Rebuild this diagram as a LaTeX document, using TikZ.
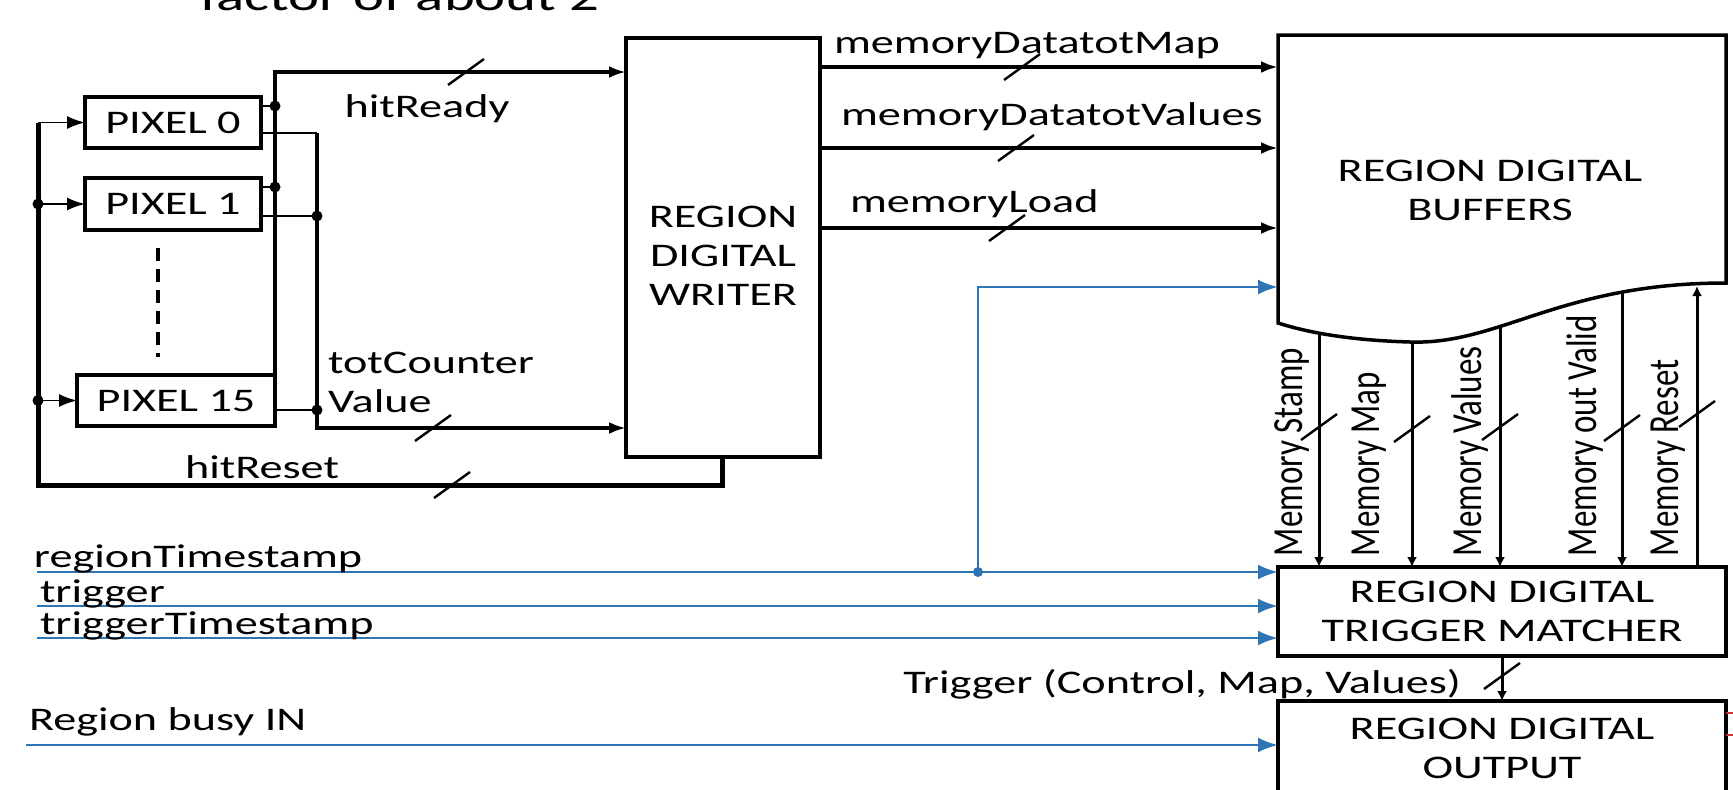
\documentclass[tikz,border=0pt]{standalone}
\usepackage{fontspec}
\setmainfont{Carlito}
\usetikzlibrary{arrows.meta,calc}
\definecolor{sigblue}{RGB}{46,117,182}
\definecolor{stubred}{RGB}{210,50,50}
\newcommand{\hs}[1]{\scalebox{1.4}[1]{#1}}
\newcommand{\vs}[1]{\scalebox{1}[1.3]{#1}}
\newcommand{\slashmark}[1]{\draw[slashln] ($(#1)+(-18,13)$) -- ($(#1)+(18,-13)$);}
\begin{document}
\begin{tikzpicture}[x=1pt,y=-1pt,
  every node/.style={font=\fontsize{33}{39}\selectfont},
  box/.style={draw,line width=4.5pt,fill=white,inner sep=0pt,outer sep=0pt},
  lbl/.style={inner sep=0pt,outer sep=0pt},
  bus/.style={line width=5pt},
  sig/.style={line width=3.6pt},
  wire/.style={line width=1.8pt},
  mem/.style={line width=3pt},
  bsig/.style={line width=2.8pt,draw=sigblue},
  tipA/.style={-{Latex[length=17pt,width=12pt]}},
  tipP/.style={-{Latex[length=18pt,width=13pt]}},
  tipB/.style={-{Latex[length=20pt,width=15pt]}},
  tipS/.style={-{Latex[length=10pt,width=10pt]}},
  slashln/.style={line width=2.4pt},
  dot/.style={circle,fill,inner sep=0pt,minimum size=11pt},
]
\useasboundingbox (0,0) rectangle (1733,790);
\clip (0,0) rectangle (1733,790);

% cut-off text at the top
\node[lbl,anchor=base west,font=\fontsize{42}{50}\selectfont] (frag) at (200,10) {\hs{factor of about 2}};

% pixel boxes
\node[box,minimum width=176pt,minimum height=51pt] (p0) at (173,122.5) {\hs{PIXEL 0}};
\node[box,minimum width=176pt,minimum height=52pt] (p1) at (173,204) {\hs{PIXEL 1}};
\node[box,minimum width=198pt,minimum height=51pt] (p15) at (176,400.5) {\hs{PIXEL 15}};
\coordinate (dA) at (158,248);
\coordinate (dB) at (158,357);
\draw[line width=4.5pt,dash pattern=on 13pt off 8pt] (dA) -- (dB);

% writer
\node[box,minimum width=194pt,minimum height=419pt] (wr) at (723,247.5) {};
\node[lbl,align=center] (wrt) at (723,256) {\hs{REGION}\\\hs{DIGITAL}\\\hs{WRITER}};

% trigger matcher and output
\node[box,minimum width=448pt,minimum height=89pt,align=center] (tm) at (1502,611.5) {\hs{REGION DIGITAL}\\\hs{TRIGGER MATCHER}};
\node[box,minimum width=448pt,minimum height=200pt,anchor=north] (out) at (1502,701) {};
\node[lbl,align=center] (ot) at (1502,748) {\hs{REGION DIGITAL}\\\hs{OUTPUT}};

% memory lines between buffers and matcher
\coordinate (mS) at (1319,320);
\coordinate (mM) at (1412,320);
\coordinate (mV) at (1500,320);
\coordinate (mO) at (1622,280);
\coordinate (mR) at (1697,286);
\draw[mem,tipS] (mS) -- (mS |- tm.north);
\draw[mem,tipS] (mM) -- (mM |- tm.north);
\draw[mem,tipS] (mV) -- (mV |- tm.north);
\draw[mem,tipS] (mO) -- (mO |- tm.north);
\draw[mem,tipS] (mR |- tm.north) -- (mR);

% buffers
\coordinate (bTL) at (1278,35);
\coordinate (bTR) at (1726,35);
\coordinate (bBR) at (1726,283);
\coordinate (bBL) at (1278,323);
\draw[line width=3.5pt,fill=white] (bTL) -- (bTR) -- (bBR) .. controls (1560,283) and (1500,345) .. (1410,342) .. controls (1340,340) and (1300,330) .. (bBL) -- cycle;
\node[lbl,align=center] (bt) at (1490,190) {\hs{REGION DIGITAL}\\\hs{BUFFERS}};

% hitReset bus
\coordinate (hrA) at (722,485);
\coordinate (busB) at (38,485);
\coordinate (busT) at (38,122.5);
\draw[bus,line join=miter] (wr.south -| hrA) -- (hrA) -- (busB) -- (busT);
\draw[wire,tipP] (busT) -- (p0.west);
\draw[wire,tipP] (busT |- p1.west) -- (p1.west);
\node[dot] at (busT |- p1.west) {};
\draw[wire,tipP] (busT |- p15.west) -- (p15.west);
\node[dot] at (busT |- p15.west) {};

% hitReady
\coordinate (hrV) at (275,72);
\draw[sig,tipA] (p15.north east) -- (hrV) -- (wr.west |- hrV);
\coordinate (p0r) at ($(p0.east)+(0,-16.5)$);
\coordinate (p1r) at ($(p1.east)+(0,-17)$);
\draw[wire] (p0r) -- (p0r -| hrV);
\node[dot] at (p0r -| hrV) {};
\draw[wire] (p1r) -- (p1r -| hrV);
\node[dot] at (p1r -| hrV) {};

% totCounter
\coordinate (tcV) at (317,428);
\coordinate (p0t) at ($(p0.east)+(0,10.5)$);
\coordinate (p1t) at ($(p1.east)+(0,12)$);
\coordinate (p15t) at ($(p15.east)+(0,9.5)$);
\draw[wire] (p0t) -- (p0t -| tcV);
\draw[sig,tipA] (p0t -| tcV) -- (tcV) -- (wr.west |- tcV);
\draw[wire] (p1t) -- (p1t -| tcV);
\node[dot] at (p1t -| tcV) {};
\draw[wire] (p15t) -- (p15t -| tcV);
\node[dot] at (p15t -| tcV) {};

% labels left
\node[lbl,anchor=base] (lhr) at (427,117) {\hs{hitReady}};
\node[lbl,anchor=north west,align=left] (ltc) at (328,352) {\hs{totCounter}\\\hs{Value}};
\node[lbl,anchor=base] (lhs) at (262,478) {\hs{hitReset}};

% writer -> buffers
\coordinate (b1) at (1278,67);
\coordinate (b2) at (1278,148);
\coordinate (b3) at (1278,228);
\draw[sig,tipA] (wr.east |- b1) -- (b1);
\draw[sig,tipA] (wr.east |- b2) -- (b2);
\draw[sig,tipA] (wr.east |- b3) -- (b3);
\node[lbl,anchor=base west] (l1) at (834,53) {\hs{memoryDatatotMap}};
\node[lbl,anchor=base west] (l2) at (841,125) {\hs{memoryDatatotValues}};
\node[lbl,anchor=base west] (l3) at (850,212) {\hs{memoryLoad}};

% vertical labels
\node[lbl,rotate=90,anchor=base west] (lS) at (1302,556) {\vs{Memory Stamp}};
\node[lbl,rotate=90,anchor=base west] (lM) at (1379,556) {\vs{Memory Map}};
\node[lbl,rotate=90,anchor=base west] (lV) at (1481,556) {\vs{Memory Values}};
\node[lbl,rotate=90,anchor=base west] (lO) at (1596,556) {\vs{Memory out Valid}};
\node[lbl,rotate=90,anchor=base west] (lR) at (1678,556) {\vs{Memory Reset}};

% trigger output
\draw[mem,tipS] (tm.south) -- (out.north);
\node[lbl,anchor=base east] (ltr) at (1461,693) {\hs{Trigger (Control, Map, Values)}};

% blue signals
\coordinate (rtL) at (37,572);
\coordinate (tgL) at (37,606);
\coordinate (ttL) at (37,638);
\coordinate (rbL) at (26,745);
\draw[bsig,tipB] (rtL) -- (tm.west |- rtL);
\draw[bsig,tipB] (tgL) -- (tm.west |- tgL);
\draw[bsig,tipB] (ttL) -- (tm.west |- ttL);
\draw[bsig,tipB] (rbL) -- (out.west |- rbL);
\coordinate (bj) at (978,572);
\coordinate (bIn) at (1278,287);
\draw[bsig,tipB] (bj) -- (bj |- bIn) -- (bIn);
\node[dot,fill=sigblue,minimum size=10pt] at (bj) {};
\node[lbl,anchor=base west] (lrt) at (34,567) {\hs{regionTimestamp}};
\node[lbl,anchor=base west] (ltg) at (40,602) {\hs{trigger}};
\node[lbl,anchor=base west] (ltt) at (40,634) {\hs{triggerTimestamp}};
\node[lbl,anchor=base west] (lrb) at (29,730) {\hs{Region busy IN}};

% red stubs at the right edge
\coordinate (rs1) at ($(out.north east)+(0,12)$);
\coordinate (rs2) at ($(out.north east)+(0,34)$);
\draw[stubred,line width=2pt] (rs1) -- ++(10,0);
\draw[stubred,line width=2pt] (rs2) -- ++(10,0);

% bus slashes
\coordinate (s1) at (466,72);
\coordinate (s2) at (433,428);
\coordinate (s3) at (452,485);
\coordinate (s4) at (1022,67);
\coordinate (s5) at (1016,148);
\coordinate (s6) at (1007,228);
\coordinate (s7) at (1319,427);
\coordinate (s8) at (1412,429);
\coordinate (s9) at (1500,427);
\coordinate (s10) at (1622,428);
\coordinate (s11) at (1697,414);
\coordinate (s12) at (1502,676);
\slashmark{s1}\slashmark{s2}\slashmark{s3}\slashmark{s4}\slashmark{s5}\slashmark{s6}
\slashmark{s7}\slashmark{s8}\slashmark{s9}\slashmark{s10}\slashmark{s11}\slashmark{s12}
\end{tikzpicture}
\end{document}
